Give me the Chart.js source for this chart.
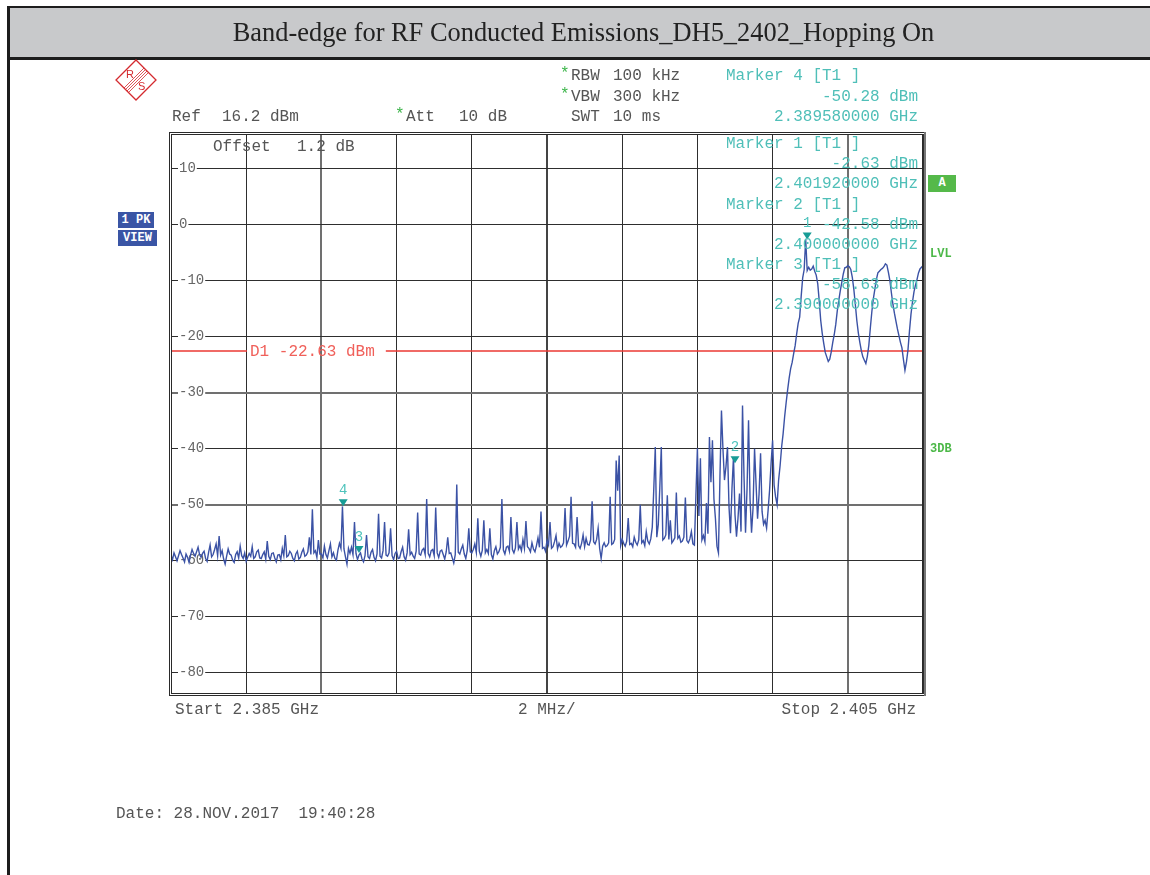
<!DOCTYPE html>
<html>
<head>
<meta charset="utf-8">
<title>Band-edge for RF Conducted Emissions_DH5_2402_Hopping On</title>
<script src="https://cdn.jsdelivr.net/npm/chart.js@4/dist/chart.umd.min.js"></script>
<style>
  body { margin: 0; width: 1150px; height: 875px; position: relative; background: #fff; overflow: hidden; }
  canvas { position: absolute; left: 0; top: 0; }
  .bar { position: absolute; left: 8px; top: 6px; width: 1150px; height: 49px; background: #c8c9cb;
         border-top: 2px solid #1d1d1d; border-bottom: 3px solid #1d1d1d; }
  .edge { position: absolute; left: 7px; top: 6px; width: 3px; height: 869px; background: #1d1d1d; }
  .title { position: absolute; left: 0; top: 8px; width: 1167px; height: 49px; text-align: center;
           font: 26.4px 'Liberation Serif', 'Times New Roman', serif; line-height: 49px; color: #222; }
  .t { position: absolute; font: 16px 'Liberation Mono', 'Courier New', monospace; line-height: 16px;
       white-space: pre; color: #555; }
  .m { color: #4fbfb8; }
  .r { text-align: right; right: 232px; }
  .g { color: #3cb54a; }
  .tag { position: absolute; font: bold 12px 'Liberation Mono', 'Courier New', monospace; color: #fff;
         background: #3a55a5; line-height: 16px; text-align: center; }
  .lv { position: absolute; font: bold 12px 'Liberation Mono', 'Courier New', monospace; color: #4cb848; line-height: 12px; }
</style>
</head>
<body>
<canvas id="chart" width="1150" height="875"></canvas>

<div class="bar"></div>
<div class="edge"></div>
<div class="title">Band-edge for RF Conducted Emissions_DH5_2402_Hopping On</div>

<svg style="position:absolute;left:115px;top:59px" width="42" height="42" viewBox="0 0 42 42">
  <g fill="none" stroke="#d42a2f" stroke-width="1.3">
    <path d="M21 1 L41 21 L21 41 L1 21 Z"/>
    <path d="M29 9 L9 29 M30.5 10.5 L10.5 30.5 M32 12 L12 32 M33.5 13.5 L13.5 33.5" stroke-width="0.8"/>
  </g>
  <text x="11" y="19" font-family="Liberation Sans, Arial" font-size="11" fill="#d42a2f">R</text>
  <text x="23" y="31" font-family="Liberation Sans, Arial" font-size="11" fill="#d42a2f">S</text>
</svg>

<div class="t" style="left:172px;top:109px">Ref</div>
<div class="t" style="left:222px;top:109px">16.2 dBm</div>
<div class="t g" style="left:395px;top:107px">*</div>
<div class="t" style="left:406px;top:109px">Att</div>
<div class="t" style="left:459px;top:109px">10 dB</div>

<div class="t g" style="left:560px;top:66px">*</div>
<div class="t" style="left:571px;top:68px">RBW</div>
<div class="t" style="left:613px;top:68px">100 kHz</div>
<div class="t g" style="left:560px;top:87px">*</div>
<div class="t" style="left:571px;top:89px">VBW</div>
<div class="t" style="left:613px;top:89px">300 kHz</div>
<div class="t" style="left:571px;top:109px">SWT</div>
<div class="t" style="left:613px;top:109px">10 ms</div>

<div class="t m" style="left:726px;top:68px">Marker 4 [T1 ]</div>
<div class="t m r" style="top:89px">-50.28 dBm</div>
<div class="t m r" style="top:109px">2.389580000 GHz</div>
<div class="t m" style="left:726px;top:136px">Marker 1 [T1 ]</div>
<div class="t m r" style="top:156px">-2.63 dBm</div>
<div class="t m r" style="top:176px">2.401920000 GHz</div>
<div class="t m" style="left:726px;top:197px">Marker 2 [T1 ]</div>
<div class="t m r" style="top:217px">-42.58 dBm</div>
<div class="t m r" style="top:237px">2.400000000 GHz</div>
<div class="t m" style="left:726px;top:257px">Marker 3 [T1 ]</div>
<div class="t m r" style="top:277px">-58.63 dBm</div>
<div class="t m r" style="top:297px">2.390000000 GHz</div>

<div class="t" style="left:213px;top:139px">Offset</div>
<div class="t" style="left:297px;top:139px">1.2 dB</div>

<div class="tag" style="left:118px;top:212px;width:36px">1 PK</div>
<div class="tag" style="left:118px;top:230px;width:39px">VIEW</div>

<div class="tag" style="left:928px;top:175px;width:28px;height:17px;line-height:17px;background:#55b94a">A</div>
<div class="lv" style="left:930px;top:248px">LVL</div>
<div class="lv" style="left:930px;top:443px">3DB</div>

<div class="t" style="left:175px;top:702px">Start 2.385 GHz</div>
<div class="t" style="left:518px;top:702px">2 MHz/</div>
<div class="t" style="right:234px;top:702px">Stop 2.405 GHz</div>
<div class="t" style="left:116px;top:806px">Date: 28.NOV.2017  19:40:28</div>

<script>
// sweep settings (MHz) and display range (dBm)
const START_MHZ = 2385;
const STOP_MHZ = 2405;
const STEP_MHZ = 0.04;
const REF_LEVEL = 16.2;
const BOTTOM_LEVEL = -83.8;

const X_GRID = [2385, 2387, 2389, 2391, 2393, 2395, 2397, 2399, 2401, 2403, 2405];
const Y_TICKS = [-80, -70, -60, -50, -40, -30, -20, -10, 0, 10];

// trace levels (dBm), one per sweep point (501 points)
const LEVELS = [
  -59.0, -59.8, -58.6, -59.3, -60.0, -59.1, -58.2, -58.9, -59.5, -60.2, -58.8, -59.4, -60.3, -59.0, -58.0, -58.7, -59.2, -58.4, -57.6, -58.9,
  -59.4, -58.7, -58.3, -59.6, -60.1, -58.5, -57.2, -59.3, -58.9, -58.0, -57.0, -59.1, -55.6, -59.0, -58.2, -59.7, -60.6, -59.2, -57.9, -58.8,
  -59.0, -59.9, -60.3, -58.9, -58.4, -59.5, -57.4, -59.1, -59.6, -58.6, -60.1, -59.4, -58.7, -59.2, -57.5, -59.6, -59.3, -58.4, -58.1, -59.5,
  -59.6, -58.9, -58.4, -59.7, -56.5, -59.2, -59.8, -58.7, -58.6, -59.5, -60.2, -59.0, -58.9, -59.8, -57.8, -59.1, -55.4, -59.3, -59.1, -58.3,
  -58.7, -59.6, -60.0, -58.8, -58.3, -59.7, -59.4, -58.5, -57.9, -59.2, -59.0, -58.4, -55.8, -58.9, -50.8, -58.6, -58.2, -59.4, -56.3, -58.8,
  -58.8, -59.5, -57.4, -58.9, -59.5, -58.2, -57.0, -59.3, -58.6, -59.6, -59.9, -58.1, -56.9, -57.8, -50.3, -57.9, -59.3, -60.6, -57.8, -58.7,
  -57.6, -58.9, -53.1, -58.7, -59.8, -59.0, -58.6, -59.7, -60.2, -59.1, -55.4, -59.3, -59.6, -58.5, -58.0, -59.4, -60.0, -58.8, -51.6, -59.2,
  -59.5, -58.2, -53.1, -59.0, -59.2, -58.6, -54.2, -59.1, -59.8, -58.7, -58.3, -59.6, -59.5, -58.4, -57.6, -59.3, -59.9, -58.6, -54.4, -58.9,
  -58.5, -59.2, -59.6, -58.3, -51.4, -58.8, -59.0, -58.1, -57.8, -58.9, -49.0, -58.7, -59.3, -58.2, -58.0, -59.1, -50.5, -58.6, -59.4, -58.3,
  -58.1, -58.9, -59.7, -58.4, -55.8, -58.7, -58.6, -59.5, -60.4, -58.9, -46.4, -58.5, -58.8, -57.9, -57.2, -58.8, -59.6, -58.1, -54.2, -58.4,
  -58.6, -58.0, -57.0, -58.5, -52.4, -58.3, -59.2, -58.1, -52.8, -58.6, -58.0, -58.7, -54.2, -58.9, -59.7, -58.2, -57.5, -58.8, -58.4, -57.6,
  -49.0, -58.1, -58.8, -57.6, -57.4, -58.3, -52.2, -58.0, -58.6, -57.7, -53.1, -57.9, -57.3, -58.2, -56.2, -57.8, -52.9, -57.5, -57.8, -58.4,
  -56.8, -57.9, -58.4, -57.3, -55.9, -57.6, -51.2, -57.8, -57.6, -58.3, -56.4, -57.2, -53.1, -57.8, -57.5, -56.6, -55.5, -57.9, -56.9, -57.6,
  -57.4, -56.8, -50.6, -57.2, -56.5, -55.6, -48.6, -56.9, -57.0, -57.6, -52.2, -57.3, -57.8, -56.9, -55.4, -57.5, -56.0, -57.1, -57.2, -56.3,
  -49.4, -56.6, -57.0, -56.2, -54.2, -57.8, -59.6, -57.4, -56.8, -57.5, -57.3, -56.8, -48.6, -57.1, -56.9, -56.2, -42.1, -47.5, -41.2, -57.3,
  -56.2, -56.9, -57.4, -56.5, -52.4, -57.1, -56.9, -57.5, -55.8, -56.7, -57.2, -56.3, -50.0, -56.8, -56.4, -57.3, -54.8, -56.5, -57.0, -56.1,
  -54.0, -47.2, -39.7, -55.8, -53.5, -47.0, -39.7, -56.3, -56.0, -55.4, -48.3, -56.2, -52.8, -56.8, -56.4, -55.9, -47.8, -56.0, -55.6, -56.7,
  -56.5, -55.8, -48.7, -56.4, -56.8, -56.1, -54.8, -57.0, -57.2, -48.5, -39.9, -52.0, -41.7, -56.3, -55.5, -56.6, -49.7, -55.2, -37.9, -46.0,
  -38.5, -49.0, -52.5, -57.4, -58.6, -45.0, -33.2, -40.1, -45.6, -43.2, -39.7, -50.3, -55.1, -47.0, -41.5, -51.8, -55.7, -52.4, -48.0, -54.8,
  -32.3, -45.0, -55.0, -47.2, -34.9, -49.0, -55.0, -50.6, -40.0, -46.3, -52.5, -48.1, -40.8, -51.2, -53.5, -52.8, -54.2, -51.0, -47.4, -42.6,
  -38.5, -46.5, -48.6, -50.0, -45.6, -43.0, -39.7, -37.3, -34.3, -31.8, -29.5, -27.4, -25.7, -24.6, -23.0, -21.6, -19.5, -17.6, -16.5, -12.8,
  -9.5, -8.0, -2.6, -8.2, -7.6, -8.1, -7.9, -7.4, -8.3, -9.0, -10.5, -13.6, -17.1, -19.4, -21.2, -22.8, -23.6, -24.4, -24.0, -22.7,
  -21.0, -19.6, -17.8, -15.4, -13.5, -11.8, -10.3, -8.8, -7.7, -7.6, -7.3, -7.5, -8.0, -9.4, -11.5, -14.2, -17.1, -19.3, -21.0, -22.5,
  -23.6, -24.2, -24.8, -23.5, -21.5, -18.4, -15.5, -13.2, -11.5, -9.8, -8.6, -8.3, -8.0, -7.8, -7.5, -7.0, -7.2, -8.5, -10.0, -12.2,
  -14.2, -15.8, -17.2, -18.6, -19.8, -21.0, -22.0, -24.1, -26.0, -24.5, -22.4, -19.0, -16.0, -13.8, -12.0, -10.8, -9.8, -8.6, -7.9, -7.6, -7.3
];

// markers: number, frequency (MHz), level (dBm)
const MARKER_NUM = ['1', '2', '3', '4'];
const MARKER_FREQ = [2401.92, 2400.0, 2390.0, 2389.58];
const MARKER_LEVEL = [-2.63, -42.58, -58.63, -50.28];

// display line
const D1_LEVEL = -22.63;
const D1_LABEL = 'D1 -22.63 dBm';

const MONO = "'Liberation Mono', 'Courier New', monospace";

// ── plugins ────────────────────────────────────────────────
const displayLine = {
  id: 'displayLine',
  beforeDatasetsDraw(chart) {
    const { ctx, chartArea: a, scales: { y } } = chart;
    const py = Math.round(y.getPixelForValue(D1_LEVEL));
    ctx.save();
    ctx.font = '16px ' + MONO;
    const tx = a.left + 79;
    const tw = ctx.measureText(D1_LABEL).width;
    ctx.strokeStyle = '#ec3a35';
    ctx.lineWidth = 1.5;
    ctx.beginPath();
    ctx.moveTo(a.left, py); ctx.lineTo(tx - 3, py);
    ctx.moveTo(tx + tw + 11, py); ctx.lineTo(a.right, py);
    ctx.stroke();
    ctx.fillStyle = '#f0605a';
    ctx.textBaseline = 'middle';
    ctx.fillText(D1_LABEL, tx, py + 1);
    ctx.restore();
  }
};

const frame = {
  id: 'frame',
  afterDatasetsDraw(chart) {
    const { ctx, chartArea: a } = chart;
    ctx.save();
    ctx.lineWidth = 1;
    ctx.strokeStyle = '#2a2a2a';
    ctx.strokeRect(a.left - 1.5, a.top - 1.5, a.right - a.left + 3, a.bottom - a.top + 3);
    ctx.strokeRect(a.left + 0.5, a.top + 0.5, a.right - a.left - 1, a.bottom - a.top - 1);
    ctx.strokeStyle = '#777';
    ctx.lineWidth = 2;
    ctx.beginPath();
    ctx.moveTo(a.right + 2, a.top - 2); ctx.lineTo(a.right + 2, a.bottom + 2);
    ctx.stroke();
    ctx.restore();
  }
};

const markers = {
  id: 'markers',
  afterDatasetsDraw(chart) {
    const { ctx, scales: { x, y } } = chart;
    ctx.save();
    ctx.font = '14px ' + MONO;
    ctx.textAlign = 'center';
    MARKER_FREQ.forEach((f, i) => {
      const px = x.getPixelForValue(f);
      const py = y.getPixelForValue(MARKER_LEVEL[i]);
      ctx.fillStyle = '#179c96';
      ctx.beginPath();
      ctx.moveTo(px, py);
      ctx.lineTo(px - 4.5, py - 7);
      ctx.lineTo(px + 4.5, py - 7);
      ctx.closePath();
      ctx.fill();
      ctx.fillStyle = '#4ec3bc';
      ctx.fillText(MARKER_NUM[i], px, py - 12);
    });
    ctx.restore();
  }
};

// ── chart ──────────────────────────────────────────────────
const trace = LEVELS.map((v, i) => ({ x: START_MHZ + i * STEP_MHZ, y: v }));

const thickY = [-30, -50];
const thickX = [2389, 2403];

new Chart(document.getElementById('chart'), {
  type: 'line',
  data: {
    datasets: [{
      label: 'Trace 1',
      data: trace,
      borderColor: '#3b52a5',
      borderWidth: 1.4,
      pointRadius: 0,
      tension: 0,
      fill: false
    }]
  },
  options: {
    responsive: false,
    devicePixelRatio: 1,
    animation: false,
    layout: { padding: { left: 171, top: 134, right: 227, bottom: 181 } },
    plugins: { legend: { display: false }, tooltip: { enabled: false } },
    scales: {
      x: {
        type: 'linear',
        min: START_MHZ,
        max: STOP_MHZ,
        afterBuildTicks: s => { s.ticks = X_GRID.map(v => ({ value: v })); },
        afterFit: s => { s.height = 0; },
        ticks: { display: false },
        border: { display: false },
        grid: {
          drawTicks: false,
          color: c => c.tick.value === 2395 ? '#444' : (thickX.includes(c.tick.value) ? '#707070' : '#2e2e2e'),
          lineWidth: c => (c.tick.value === 2395 || thickX.includes(c.tick.value)) ? 2 : 1
        }
      },
      y: {
        type: 'linear',
        min: BOTTOM_LEVEL,
        max: REF_LEVEL,
        afterBuildTicks: s => { s.ticks = Y_TICKS.map(v => ({ value: v })); },
        afterFit: s => { s.width = 0; },
        border: { display: false },
        grid: {
          drawTicks: false,
          color: c => thickY.includes(c.tick.value) ? '#707070' : '#2e2e2e',
          lineWidth: c => thickY.includes(c.tick.value) ? 2 : 1
        },
        ticks: {
          mirror: true,
          padding: 8,
          autoSkip: false,
          color: '#666',
          font: { family: MONO, size: 14 },
          showLabelBackdrop: true,
          backdropColor: '#fff',
          backdropPadding: { left: 1, right: 1, top: 0, bottom: 0 },
          callback: v => String(v)
        }
      }
    }
  },
  plugins: [displayLine, markers, frame]
});
</script>
</body>
</html>
